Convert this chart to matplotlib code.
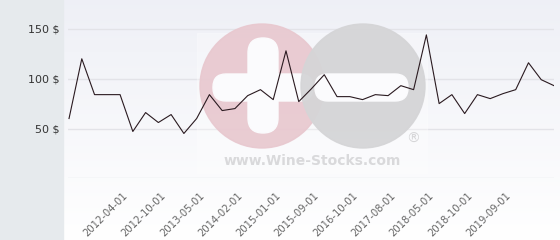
import numpy as np
import matplotlib
matplotlib.use("Agg")
import matplotlib.pyplot as plt
import matplotlib.transforms as mtransforms
from matplotlib.patches import Circle, FancyBboxPatch, Rectangle

# prices, one per sale
prices = [60, 120, 84, 84, 84, 47, 66, 56, 64, 45,
          60, 84, 68, 70, 83, 89, 79, 128, 77, 90,
          104, 82, 82, 79, 84, 83, 93, 89, 144, 75,
          84, 65, 84, 80, 85, 89, 116, 99, 93]
tick_pos = [4, 7, 10, 13, 16, 19, 22, 25, 28, 31, 34]
tick_labels = ["2012-04-01", "2012-10-01", "2013-05-01", "2014-02-01",
               "2015-01-01", "2015-09-01", "2016-10-01", "2017-08-01",
               "2018-05-01", "2018-10-01", "2019-09-01"]
y_ticks = [50, 100, 150]
y_labels = ["50 $", "100 $", "150 $"]

W, H = 560, 240
fig = plt.figure(figsize=(W / 100, H / 100), dpi=100)
fig.patch.set_facecolor("white")

# pixel coords, origin top-left
px = mtransforms.Affine2D().scale(1 / W, -1 / H).translate(0, 1) + fig.transFigure

# left grey panel + gradient plot background
fig.patches.append(Rectangle((0, 0), 63, H, transform=px, color="#e6eaed", zorder=0))
bg = fig.add_axes([63 / W, 0, 1 - 63 / W, 1], zorder=0)
grad = np.linspace(0, 1, 256).reshape(-1, 1)
top = np.array([0.935, 0.94, 0.965])
bot = np.array([1.0, 1.0, 1.0])
img = top + (bot - top) * grad[..., None]
bg.imshow(img, aspect="auto", extent=[0, 1, 0, 1], origin="upper")
bg.axis("off")

# plot area 68..554 px horizontally, 0 line at y=178
ax = fig.add_axes([68 / W, (H - 178.3) / H, (554 - 68) / W, 174.3 / H], zorder=1)
ax.patch.set_alpha(0)
ax.set_xlim(-0.08, 38)
ax.set_ylim(0, 175)
for s in ax.spines.values():
    s.set_visible(False)

for v in [0] + y_ticks:
    ax.axhline(v, color="#e3e3e8", lw=1, zorder=1)

# watermark logo
logo = [
    Rectangle((197, 33), 230, 140, color="white", alpha=0.3),
    Circle((262, 86), 62, color="#e8c8cf", alpha=0.92),
    FancyBboxPatch((248, 38), 30, 95, boxstyle="round,pad=0,rounding_size=15", color="#fbfbfd"),
    FancyBboxPatch((213, 74), 100, 27, boxstyle="round,pad=0,rounding_size=13", color="#fbfbfd"),
    Circle((363, 86), 62, color="#d5d5d7", alpha=0.95),
    FancyBboxPatch((315, 74), 93, 27, boxstyle="round,pad=0,rounding_size=13", color="#fbfbfd"),
]
for p in logo:
    p.set_transform(px)
    p.set_zorder(2)
    p.set_clip_on(False)
    ax.add_artist(p)
ax.text(312, 161, "www.Wine-Stocks.com", transform=px, ha="center", va="center",
        fontsize=10, fontweight="bold", color="#d9d9db", zorder=2)
ax.text(413, 139, "®", transform=px, ha="center", va="center",
        fontsize=10, color="#d6d6d8", zorder=2)

ax.plot(range(len(prices)), prices, color="#2a1a20", lw=0.8, zorder=3)

ax.set_yticks(y_ticks)
ax.set_yticklabels(y_labels, fontsize=8, color="#333333")
ax.tick_params(axis="y", length=0, pad=6)

ax.set_xticks(tick_pos)
ax.set_xticklabels(tick_labels, fontsize=7.2, color="#666666", rotation=45,
                   ha="right", va="center", rotation_mode="anchor")
ax.tick_params(axis="x", length=0, pad=11)
shift = mtransforms.ScaledTranslation(6 / 100, 0, fig.dpi_scale_trans)
for lab in ax.get_xticklabels():
    lab.set_transform(lab.get_transform() + shift)

fig.savefig("out.png", dpi=100)
